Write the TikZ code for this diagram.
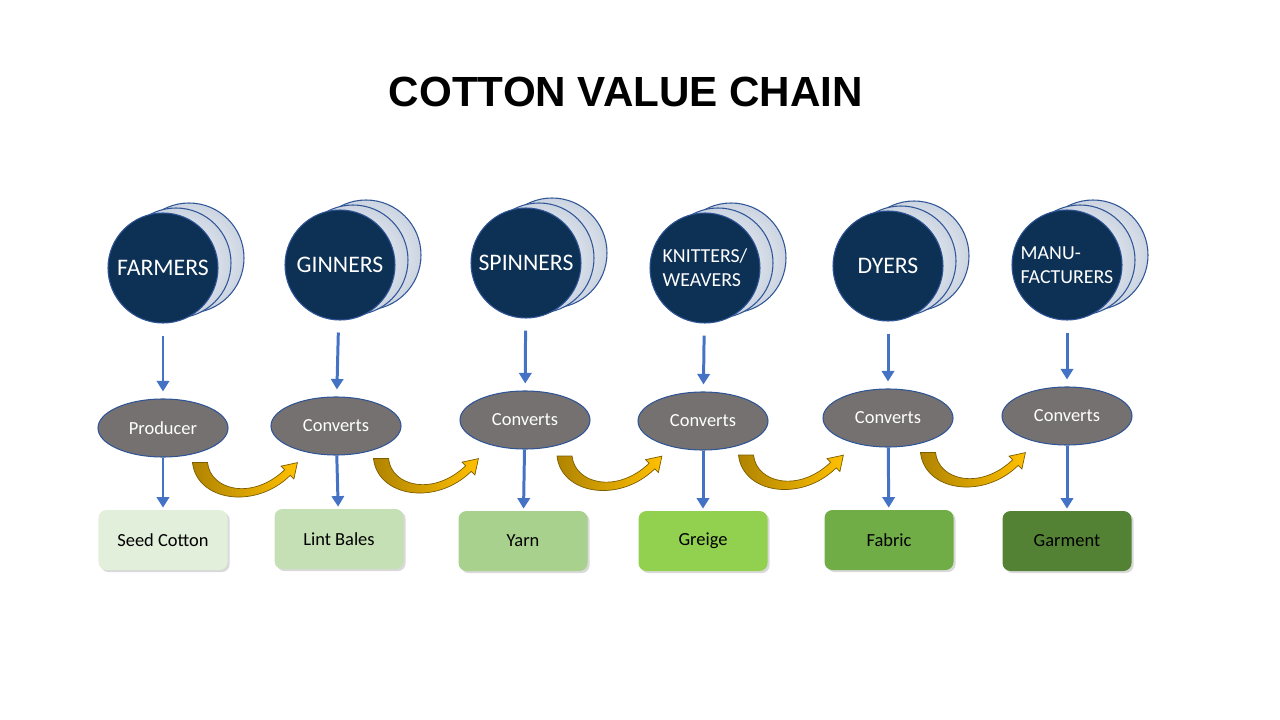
\documentclass[tikz,border=0pt]{standalone}
\usepackage{fontspec}
\setmainfont{Carlito}
\newfontfamily\headfont{Liberation Sans}
\usetikzlibrary{arrows.meta,calc,shadows,shapes.geometric}

\definecolor{navy}{HTML}{0D3055}
\definecolor{rim}{HTML}{2F5597}
\definecolor{pale}{HTML}{CBD4E1}
\definecolor{stone}{HTML}{767171}
\definecolor{flowblue}{HTML}{4472C4}
\definecolor{gold}{HTML}{FFC000}
\definecolor{darkgold}{HTML}{B08400}
\definecolor{green1}{HTML}{E2EFDA}
\definecolor{green2}{HTML}{C5E0B4}
\definecolor{green3}{HTML}{A9D18E}
\definecolor{green4}{HTML}{92D050}
\definecolor{green5}{HTML}{70AD47}
\definecolor{green6}{HTML}{548235}

% stacked discs: two pale copies behind the front one
\newcommand\actor[4][]{%
  \node[backdisc] at ($(#3)+(26,-10)$) {};
  \node[backdisc] at ($(#3)+(13,-5)$) {};
  \node[disc,#1] (#2) at (#3) {#4};}

\begin{document}
\begin{tikzpicture}[
  x=0.2mm, y=-0.2mm,
  disc/.style={circle,fill=navy,draw=rim,line width=.6pt,minimum size=22mm,
    inner sep=0pt,text=white,align=left,font=\fontsize{13.5}{16}\selectfont},
  small/.style={font=\fontsize{11.3}{13.5}\selectfont},
  backdisc/.style={circle,draw=rim,line width=.6pt,minimum size=22mm,
    inner color=white,outer color=pale},
  role/.style={ellipse,fill=stone,draw=rim,line width=.6pt,minimum width=26mm,
    minimum height=11.6mm,text=white,font=\fontsize{10.5}{12}\selectfont},
  good/.style={rounded corners=1.6mm,minimum width=25.8mm,minimum height=12mm,
    font=\fontsize{10.5}{12}\selectfont,
    drop shadow={opacity=.3,shadow xshift=1.2pt,shadow yshift=-1.2pt}},
  feed/.style={flowblue,line width=1.7pt,-{Triangle[width=7pt,length=6pt]}},
  swoosh/.pic={
    \draw[darkgold!70!black,line width=.4pt,left color=darkgold,right color=gold]
      (0,0) .. controls (4,38) and (62,48) .. (97.8,12.8) -- (101.4,16.4)
      -- (104.9,0.1) -- (88.6,3.6) -- (92.2,7.2)
      .. controls (60,38) and (18,28) .. (15,0) -- cycle;}
]
  \useasboundingbox (0,0) rectangle (1280,720);

  \node[font=\headfont\bfseries\fontsize{24}{28}\selectfont] (title) at (626,92)
    {COTTON VALUE CHAIN};

  % actors
  \actor{farmers}{163,268}{FARMERS}
  \actor{ginners}{340,265}{GINNERS}
  \actor{spinners}{526,263}{SPINNERS}
  \actor[small]{knitters}{705,268}{KNITTERS/\\WEAVERS}
  \actor{dyers}{888,266}{DYERS}
  \actor[small]{makers}{1067,265}{MANU-\\FACTURERS}

  % roles
  \node[role] (e1) at (163,428) {Producer};
  \node[role] (e2) at (336,426) {Converts};
  \node[role] (e3) at (525,420) {Converts};
  \node[role] (e4) at (703,421) {Converts};
  \node[role] (e5) at (888,418) {Converts};
  \node[role] (e6) at (1067,416) {Converts};

  % products
  \node[good,fill=green1] (seed) at (163,540) {Seed Cotton};
  \node[good,fill=green2] (lint) at (339,539) {Lint Bales};
  \node[good,fill=green3] (yarn) at (523,541) {Yarn};
  \node[good,fill=green4] (greige) at (703,541) {Greige};
  \node[good,fill=green5] (fabric) at (889,540) {Fabric};
  \node[good,fill=green6] (garment) at (1067,541) {Garment};

  \draw[feed,shorten <=2.4mm,shorten >=1.4mm] (farmers) -- (e1);
  \draw[feed,shorten <=2.4mm,shorten >=1.4mm] (ginners) -- (e2);
  \draw[feed,shorten <=2.4mm,shorten >=1.4mm] (spinners) -- (e3);
  \draw[feed,shorten <=2.4mm,shorten >=1.4mm] (knitters) -- (e4);
  \draw[feed,shorten <=2.4mm,shorten >=1.4mm] (dyers) -- (e5);
  \draw[feed,shorten <=2.4mm,shorten >=1.4mm] (makers) -- (e6);

  \draw[feed,shorten >=.4mm] (e1) -- (seed);
  \draw[feed,shorten >=.4mm] (e2) -- (lint);
  \draw[feed,shorten >=.4mm] (e3) -- (yarn);
  \draw[feed,shorten >=.4mm] (e4) -- (greige);
  \draw[feed,shorten >=.4mm] (e5) -- (fabric);
  \draw[feed,shorten >=.4mm] (e6) -- (garment);

  % hand-over arrows
  \pic at ($(e1.south)!.5!(e2.south)+(-57,6)$) {swoosh};
  \pic at ($(e2.south)!.5!(e3.south)+(-57,6)$) {swoosh};
  \pic at ($(e3.south)!.5!(e4.south)+(-57,6)$) {swoosh};
  \pic at ($(e4.south)!.5!(e5.south)+(-57,6)$) {swoosh};
  \pic at ($(e5.south)!.5!(e6.south)+(-57,6)$) {swoosh};
\end{tikzpicture}
\end{document}
